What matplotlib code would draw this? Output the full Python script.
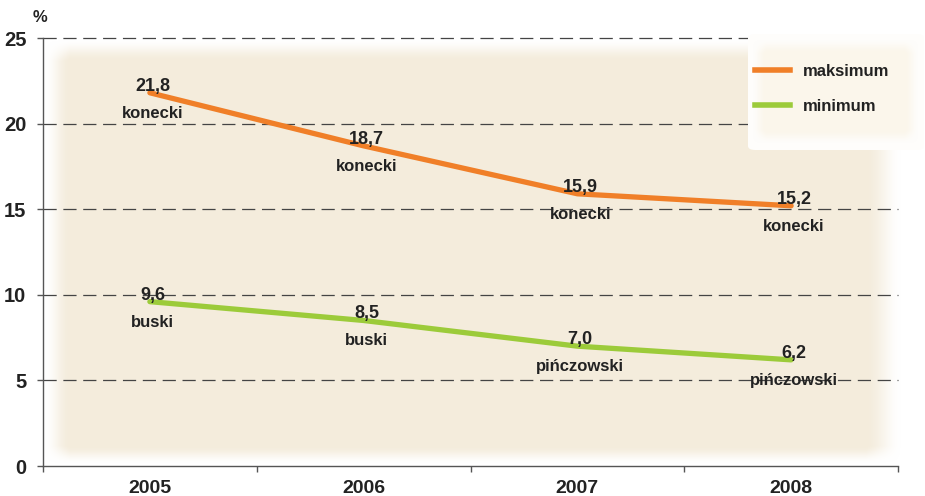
import numpy as np
import matplotlib.pyplot as plt
from matplotlib.lines import Line2D
from matplotlib.patches import FancyBboxPatch

plt.rcParams['font.family'] = ['Liberation Sans', 'DejaVu Sans']
plt.rcParams['lines.scale_dashes'] = False

# data
years = ['2005', '2006', '2007', '2008']
max_vals = [21.8, 18.7, 15.9, 15.2]
max_names = ['konecki', 'konecki', 'konecki', 'konecki']
min_vals = [9.6, 8.5, 7.0, 6.2]
min_names = ['buski', 'buski', 'pińczowski', 'pińczowski']
y_ticks = [0, 5, 10, 15, 20, 25]

orange = '#F07F28'
green = '#9CCB3A'
beige = (0.957, 0.929, 0.863)
cream = (0.985, 0.968, 0.925)

W, H = 925, 496
fig = plt.figure(figsize=(W / 100, H / 100), dpi=100)


def fig_rect(x0, y0, x1, y1):
    # pixel box (top-left origin) -> figure fraction rect
    return [x0 / W, 1 - y1 / H, (x1 - x0) / W, (y1 - y0) / H]


def soft_panel(w, h, rgb, fl, fr, ft, fb):
    xx = np.arange(w)[None, :] + 0.5
    yy = np.arange(h)[:, None] + 0.5
    a = np.clip(np.minimum(xx / fl, (w - xx) / fr), 0, 1) * \
        np.clip(np.minimum(yy / ft, (h - yy) / fb), 0, 1)
    a = a * a * (3 - 2 * a)
    img = np.zeros((h, w, 4))
    img[..., :3] = rgb
    img[..., 3] = a
    return img


# beige background panel with soft edges
bg = fig.add_axes(fig_rect(44, 39, 902, 464), zorder=0)
bg.imshow(soft_panel(858, 425, beige, 26, 36, 22, 18), aspect='auto', interpolation='bilinear')
bg.axis('off')

ax = fig.add_axes(fig_rect(43, 38, 898, 466), zorder=1)
ax.set_facecolor('none')
x = np.arange(len(years))
ax.set_xlim(-0.5, len(years) - 0.5)
ax.set_ylim(0, 25)

for s in ['top', 'right']:
    ax.spines[s].set_visible(False)
for s in ['left', 'bottom']:
    ax.spines[s].set_color('#555555')
    ax.spines[s].set_linewidth(1.0)

ax.set_yticks(y_ticks)
ax.set_yticklabels([str(v) for v in y_ticks])
ax.tick_params(axis='y', length=4, width=1, color='#555555', pad=8, labelsize=14.5)
ax.set_xticks(np.arange(len(years) + 1) - 0.5)
ax.set_xticklabels([])
ax.set_xticks(x, minor=True)
ax.set_xticklabels(years, minor=True)
ax.tick_params(axis='x', which='major', length=4, width=1, color='#555555')
ax.tick_params(axis='x', which='minor', length=0, pad=10, labelsize=14)
for lab in ax.get_xticklabels(minor=True) + ax.get_yticklabels():
    lab.set_fontweight('bold')
    lab.set_color('#222222')

for v in y_ticks[1:]:
    ax.axhline(v, color='#444444', lw=0.9, dashes=(9.5, 4.8), zorder=2, clip_on=False)

ax.plot(x, max_vals, color=orange, lw=3.8, solid_capstyle='round', solid_joinstyle='round', zorder=3)
ax.plot(x, min_vals, color=green, lw=3.8, solid_capstyle='round', solid_joinstyle='round', zorder=3)

for vals, names in [(max_vals, max_names), (min_vals, min_names)]:
    for i, (v, n) in enumerate(zip(vals, names)):
        ax.annotate(f'{v:.1f}'.replace('.', ','), (x[i], v), xytext=(2, 1.5),
                    textcoords='offset points', ha='center', va='baseline',
                    fontsize=13, fontweight='bold', color='#222222', zorder=4)
        ax.annotate(n, (x[i], v), xytext=(2, -18), textcoords='offset points',
                    ha='center', va='baseline', fontsize=12, fontweight='bold',
                    color='#222222', zorder=4)

fig.text(40 / W, 1 - 18 / H, '%', ha='center', va='center', fontsize=12,
         fontweight='bold', color='#222222')

# legend box
r = fig_rect(748, 34, 924, 150)
fig.patches.append(FancyBboxPatch((r[0], r[1]), r[2], r[3], boxstyle='round,pad=0,rounding_size=0.008',
                                  transform=fig.transFigure, facecolor='#FEFDFB', edgecolor='none', zorder=5))
lg = fig.add_axes(fig_rect(752, 40, 918, 144), zorder=6)
lg.imshow(soft_panel(166, 104, cream, 14, 14, 14, 14), aspect='auto', interpolation='bilinear')
lg.axis('off')

handles = [Line2D([], [], color=orange, lw=4), Line2D([], [], color=green, lw=4)]
leg = fig.legend(handles, ['maksimum', 'minimum'], loc='center left',
                 bbox_to_anchor=(755 / W, 1 - 89 / H), frameon=False,
                 prop={'size': 12, 'weight': 'bold'}, handlelength=2.1,
                 handletextpad=0.8, labelspacing=1.2, borderpad=0, borderaxespad=0)
leg.set_zorder(7)
for t in leg.get_texts():
    t.set_color('#222222')

fig.savefig('out.png', dpi=100, facecolor='white')
